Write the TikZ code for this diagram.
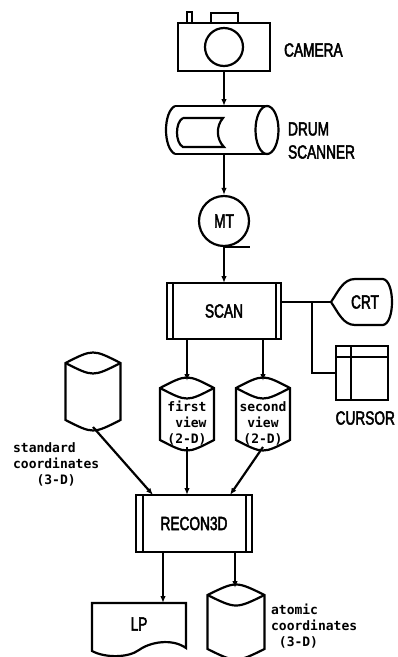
\documentclass[tikz,border=0pt]{standalone}
\usepackage{fontspec}
\newfontfamily\lblfont[FakeStretch=0.72,FakeBold=2.4]{Liberation Sans}
\newfontfamily\monofnt{DejaVu Sans Mono}
\usetikzlibrary{arrows.meta}
\newcommand\mydisk[5]{% name, cx, y top peak, y bottom lowest, half width
  \node[inner sep=0pt, outer sep=0pt, minimum width=2*#5, minimum height=#4-#3] (#1) at ({#2},{(#3+#4)/2}) {};
  \draw (#2-#5,#3+7) .. controls (#2,#3-7) .. (#2+#5,#3+7) -- (#2+#5,#4-7)
        .. controls (#2,#4+7) .. (#2-#5,#4-7) -- cycle;
  \draw (#2-#5,#3+7) .. controls (#2,#3+21) .. (#2+#5,#3+7);
}
\begin{document}
\begin{tikzpicture}[x=1pt,y=-1pt,line width=2.2pt,
  arr/.style={-{Latex[length=7pt,width=5.5pt]}},
  lbl/.style={font=\lblfont\fontsize{19}{22}\selectfont, inner sep=0pt},
  mtxt/.style={font=\monofnt\bfseries\fontsize{13}{16}\selectfont, inner sep=0pt},
  ghost/.style={inner sep=0pt, outer sep=0pt},
  proc/.style={draw, inner sep=0pt, outer sep=0pt}]
\useasboundingbox (0,0) rectangle (397,657);

% camera
\node[proc, minimum width=92, minimum height=48] (cam) at (224,47) {};
\draw ([xshift=9pt]cam.north west) -- ++(0,-11) -- ++(5,0) -- ++(0,11);
\draw ([xshift=33pt]cam.north west) -- ++(0,-10) -- ++(27,0) -- ++(0,10);
\node[draw, circle, minimum size=38, ghost] (lens) at (cam.center) {};
\node[lbl, anchor=west] (camlbl) at (283,50) {CAMERA};

% drum scanner
\node[ghost, minimum width=112, minimum height=48] (drum) at (223,130) {};
\draw (175,106) -- (267,106);
\draw (175,154) -- (267,154);
\draw (175,106) .. controls (163,112) and (163,148) .. (175,154);
\draw (267,130) ellipse [x radius=11.5, y radius=24];
\draw (183,118) -- (223,118) .. controls (216,126) and (216,139) .. (224,147)
      -- (183,147) .. controls (175,143) and (175,122) .. (183,118);
\node[lbl, anchor=west] (druml) at (287,129) {DRUM};
\node[lbl, anchor=west] (scanl) at (287,152) {SCANNER};
\draw[arr] (cam.south) -- (cam.south |- drum.north);

% MT
\node[draw, circle, minimum size=50, lbl] (mt) at (224,221) {MT};
\draw (mt.south) -- ++(26,0);
\draw[arr] (mt.north |- drum.south) -- (mt.north);

% SCAN
\node[proc, minimum width=114, minimum height=56, lbl] (scan) at (224,311) {SCAN};
\draw ([xshift=6pt]scan.north west) -- ([xshift=6pt]scan.south west);
\draw ([xshift=-5pt]scan.north east) -- ([xshift=-5pt]scan.south east);
\draw[arr] (mt.south) -- (scan.north);

% CRT
\node[ghost, minimum width=61, minimum height=46] (crt) at (361.5,302) {};
\draw (331,302) .. controls (338,292) and (343,279) .. (355,279) -- (383,279)
      .. controls (395,281) and (395,323) .. (383,325) -- (355,325)
      .. controls (343,325) and (338,312) .. (331,302) -- cycle;
\node[lbl] (crtl) at (365,302) {CRT};
\draw (crt.west -| scan.east) -- (crt.west);

% cursor
\node[proc, minimum width=52, minimum height=54] (cur) at (362,373) {};
\draw ([xshift=15pt]cur.north west) -- ([xshift=15pt]cur.south west);
\draw ([yshift=-11pt]cur.north west) -- ([yshift=-11pt]cur.north east);
\coordinate (br) at (312,302);
\draw (br) |- (cur.west);
\node[lbl, anchor=east] (curl) at (396,418) {CURSOR};

% view disks
\mydisk{fv}{187}{381}{447}{27}
\mydisk{sv}{263}{381}{447}{27}
\node[mtxt, align=left] (fvt) at (187,423) {first\\\phantom{x}view\\(2-D)};
\node[mtxt, align=center] (svt) at (263,423) {second\\view\\(2-D)};
\draw[arr] (scan.south -| fv) -- (fv.north);
\draw[arr] (scan.south -| sv) -- (sv.north);

% standard coordinates disk
\mydisk{std}{93}{356}{427}{27.5}
\node[mtxt, align=left, anchor=west] (stdl) at (12,464) {standard\\coordinates\\\phantom{xxx}(3-D)};

% RECON3D
\node[proc, minimum width=116, minimum height=57, lbl] (rec) at (194,523.5) {RECON3D};
\draw ([xshift=7pt]rec.north west) -- ([xshift=7pt]rec.south west);
\draw ([xshift=-6pt]rec.north east) -- ([xshift=-6pt]rec.south east);
\draw[arr] (std.south) -- ([xshift=-41pt]rec.north);
\draw[arr] (fv.south) -- (fv.south |- rec.north);
\draw[arr] (sv.south) -- ([xshift=36pt]rec.north);

% LP
\node[ghost, minimum width=94, minimum height=49] (lp) at (139,627.5) {};
\draw (92,603) -- (186,603) -- (186,648) .. controls (172,638) and (150,642) .. (139,650)
      .. controls (128,658) and (105,658) .. (92,651) -- cycle;
\node[lbl] (lpl) at (139,624) {LP};
\draw[arr] ([xshift=-31pt]rec.south) -- ([xshift=-31pt]rec.south |- lp.north);

% atomic coordinates disk
\mydisk{atm}{236}{588}{656}{28.5}
\node[mtxt, align=left, anchor=west] (atml) at (270,626) {atomic\\coordinates\\\phantom{x}(3-D)};
\draw[arr] ([xshift=41pt]rec.south) -- ([xshift=41pt]rec.south |- atm.north);
\end{tikzpicture}
\end{document}
